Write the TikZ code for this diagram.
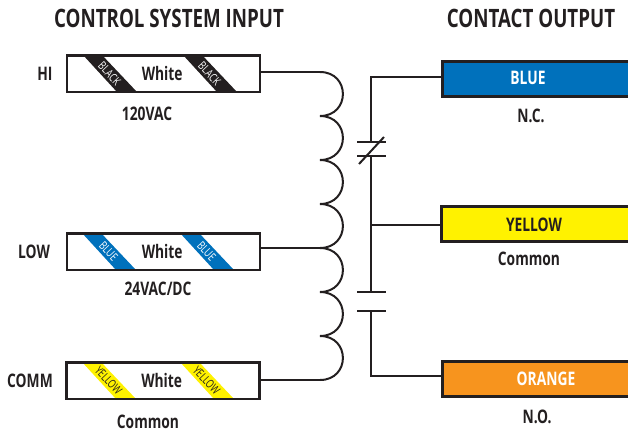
\documentclass[tikz,border=0pt]{standalone}
\usepackage{fontspec}
\setmainfont[FakeStretch=0.74]{Open Sans}
\definecolor{ink}{HTML}{231F20}
\definecolor{wireblue}{HTML}{0071BC}
\definecolor{wireyellow}{HTML}{FFF200}
\definecolor{wireorange}{HTML}{F7941E}
\tikzset{
  wire/.style={draw=ink, line width=1.5pt},
  wirebox/.style={draw=ink, line width=2pt, inner sep=0pt, minimum width=144.75pt, minimum height=27.5pt, text=ink, font=\fontsize{14}{14}\selectfont\bfseries},
  colorbox/.style={draw=ink, line width=2.2pt, inner sep=0pt, minimum width=156pt, minimum height=26.5pt, anchor=west},
  heading/.style={text=ink, font=\fontsize{19}{20}\selectfont\bfseries},
  caption/.style={text=ink, font=\fontsize{14}{14}\selectfont\bfseries},
  stripelabel/.style={rotate=-47, font=\fontsize{8.8}{9}\selectfont, inner sep=0pt}
}
\begin{document}
\begin{tikzpicture}[x=0.75pt,y=-0.75pt]
  \useasboundingbox (0,0) rectangle (628,432);
  % stripes under the input boxes
  \foreach \x/\col/\txt/\tc/\yy/\nm in {83/ink/BLACK/white/55/a,183/ink/BLACK/white/55/b,82/wireblue/BLUE/white/233/c,180/wireblue/BLUE/white/233/d,82/wireyellow/YELLOW/ink/362/e,180/wireyellow/YELLOW/ink/362/f}{
    \fill[\col] (\x,\yy) -- ++(19,0) -- ++(35,37) -- ++(-20,0) -- cycle;
    \node[stripelabel, text=\tc] (stripe\nm) at (\x+26.5,\yy+18.5) {\txt};
  }
  % input boxes
  \node[wirebox] (hi) at (163.5,73.5) {White\kern2pt};
  \node[wirebox] (low) at (163.5,251.5) {White\kern2pt};
  \node[wirebox] (comm) at (163,380.5) {White\kern2pt};
  % output boxes
  \node[colorbox, fill=wireblue] (blue) at (441,79) {};
  \node[colorbox, fill=wireyellow] (yellow) at (440,224) {};
  \node[colorbox, fill=wireorange] (orange) at (441,379) {};
  % coil
  \coordinate (c0) at (320,72);
  \coordinate (c1) at (320,116);
  \coordinate (c2) at (320,160);
  \coordinate (c3) at (320,204);
  \coordinate (c4) at (320,248);
  \coordinate (c5) at (320,292);
  \coordinate (c6) at (320,336);
  \coordinate (c7) at (320,380);
  \foreach \a/\b in {c0/c1,c1/c2,c2/c3,c3/c4,c4/c5,c5/c6,c6/c7}
    \draw[wire] (\a) .. controls ([xshift=22.9pt]\a) and ([xshift=22.9pt]\b) .. (\b);
  \draw[wire] (hi.east |- c0) -- (c0);
  \draw[wire] (low.east |- c4) -- (c4);
  \draw[wire] (comm.east |- c7) -- (c7);
  % contacts
  \coordinate (nc1) at (371,142);
  \coordinate (nc2) at (371,156);
  \coordinate (no1) at (371,292);
  \coordinate (no2) at (371,311);
  \coordinate (tap) at (371,225);
  \draw[wire] (blue.west |- 0,77) -| (nc1);
  \draw[wire] (nc2) -- (no1);
  \draw[wire] (tap) -- (yellow.west |- tap);
  \draw[wire] (no2) |- (orange.west |- 0,376);
  \foreach \p in {nc1,nc2,no1,no2}
    \draw[wire] ([xshift=-10.5pt]\p) -- ([xshift=11pt]\p);
  \coordinate (sl1) at (359,164);
  \coordinate (sl2) at (384,137);
  \draw[wire] (sl1) -- (sl2);
  % texts
  \node[heading] (titlein) at (169,18) {CONTROL SYSTEM INPUT};
  \node[heading] (titleout) at (531,18) {CONTACT OUTPUT};
  \node[caption] (lblhi) at (45,74) {HI};
  \node[caption] (lbllow) at (34,252) {LOW};
  \node[caption] (lblcomm) at (30,381) {COMM};
  \node[caption] (volthi) at (147,114) {120VAC};
  \node[caption] (voltlow) at (158,289) {24VAC/DC};
  \node[caption] (voltcomm) at (148,422) {Common};
  \node[caption, text=white] (lblblue) at (528,78) {BLUE};
  \node[caption] (lblyellow) at (534,225) {YELLOW};
  \node[caption, text=white] (lblorange) at (546,379) {ORANGE};
  \node[caption] (nctxt) at (531,116) {N.C.};
  \node[caption] (comtxt) at (529,259) {Common};
  \node[caption] (notxt) at (537,417) {N.O.};
\end{tikzpicture}
\end{document}
